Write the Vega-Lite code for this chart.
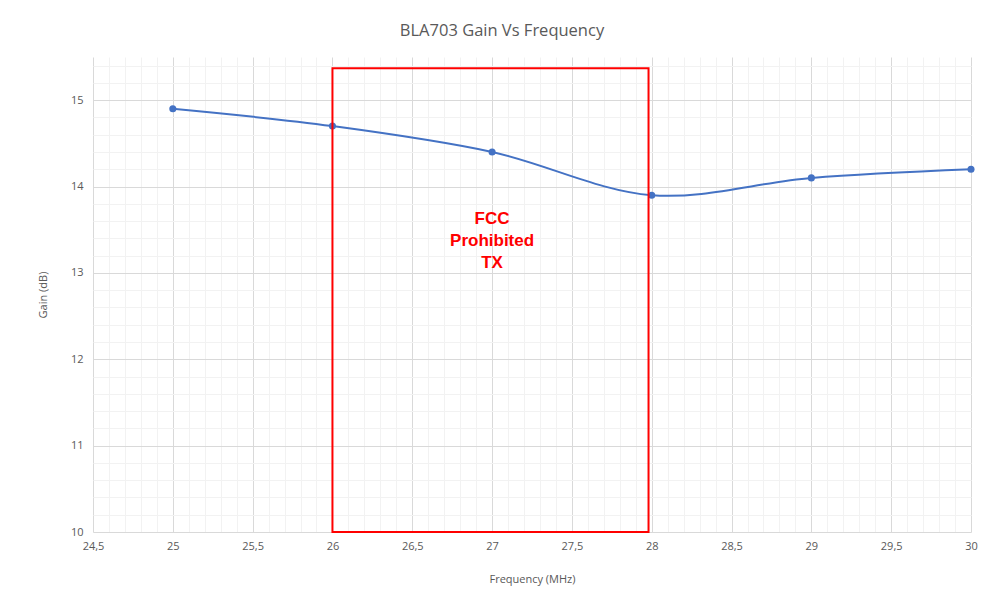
{
  "$schema": "https://vega.github.io/schema/vega-lite/v6.json",
  "autosize": {"type": "none"},
  "width": 878,
  "height": 475,
  "padding": {"left": 93, "top": 57, "right": 22, "bottom": 69},
  "background": "white",
  "title": {
    "text": "BLA703 Gain Vs Frequency",
    "font": "Open Sans",
    "fontSize": 16.5,
    "fontWeight": "normal",
    "color": "#595959",
    "offset": 18,
    "dx": -30,
    "anchor": "middle"
  },
  "config": {
    "view": {"stroke": null},
    "axis": {
      "labelFont": "Open Sans",
      "titleFont": "Open Sans",
      "labelFontSize": 11,
      "titleFontSize": 11,
      "labelColor": "#595959",
      "titleColor": "#595959",
      "titleFontWeight": "normal",
      "ticks": false,
      "domain": false
    }
  },
  "layer": [
    {
      "data": {
        "values": [
          {"freq": 25, "gain": 14.9},
          {"freq": 26, "gain": 14.7},
          {"freq": 27, "gain": 14.4},
          {"freq": 28, "gain": 13.9},
          {"freq": 29, "gain": 14.1},
          {"freq": 30, "gain": 14.2}
        ]
      },
      "mark": {
        "type": "line",
        "interpolate": "catmull-rom",
        "color": "#4472C4",
        "strokeWidth": 2,
        "point": {"filled": true, "size": 50, "color": "#4472C4"}
      },
      "encoding": {
        "x": {
          "field": "freq",
          "type": "quantitative",
          "scale": {"domain": [24.5, 30], "nice": false, "zero": false},
          "axis": {
            "title": "Frequency (MHz)",
            "tickCount": 200,
            "values": [24.5,24.6,24.7,24.8,24.9,25,25.1,25.2,25.3,25.4,25.5,25.6,25.7,25.8,25.9,26,26.1,26.2,26.3,26.4,26.5,26.6,26.7,26.8,26.9,27,27.1,27.2,27.3,27.4,27.5,27.6,27.7,27.8,27.9,28,28.1,28.2,28.3,28.4,28.5,28.6,28.7,28.8,28.9,29,29.1,29.2,29.3,29.4,29.5,29.6,29.7,29.8,29.9,30],
            "labelExpr": "abs(round(datum.value*2) - datum.value*2) < 0.001 ? replace(toString(datum.value), '.', ',') : ''",
            "gridColor": {"condition": {"test": "abs(round(datum.value*2) - datum.value*2) < 0.001", "value": "#d9d9d9"}, "value": "#f2f2f2"},
            "labelPadding": 8,
            "titlePadding": 22,
            "labelFlush": false,
            "labelOverlap": false
          }
        },
        "y": {
          "field": "gain",
          "type": "quantitative",
          "scale": {"domain": [10, 15.5], "nice": false, "zero": false},
          "axis": {
            "title": "Gain (dB)",
            "tickCount": 200,
            "values": [10,10.2,10.4,10.6,10.8,11,11.2,11.4,11.6,11.8,12,12.2,12.4,12.6,12.8,13,13.2,13.4,13.6,13.8,14,14.2,14.4,14.6,14.8,15,15.2,15.4],
            "labelExpr": "abs(round(datum.value) - datum.value) < 0.001 ? toString(datum.value) : ''",
            "gridColor": {"condition": {"test": "abs(round(datum.value) - datum.value) < 0.001", "value": "#d9d9d9"}, "value": "#f2f2f2"},
            "labelPadding": 10,
            "titlePadding": 22,
            "labelFlush": false,
            "labelOverlap": false
          }
        }
      }
    },
    {
      "data": {"values": [{"x1": 26, "x2": 27.98, "y1": 10, "y2": 15.37}]},
      "mark": {"type": "rect", "fill": null, "fillOpacity": 0, "stroke": "#FF0000", "strokeWidth": 2},
      "encoding": {
        "x": {"field": "x1", "type": "quantitative"},
        "x2": {"field": "x2"},
        "y": {"field": "y1", "type": "quantitative"},
        "y2": {"field": "y2"}
      }
    },
    {
      "data": {"values": [{"x": 27, "y": 13.63, "label": "FCC\nProhibited\nTX"}]},
      "mark": {"type": "text", "lineBreak": "\n", "font": "Liberation Sans", "fontSize": 17, "fontWeight": "bold", "color": "#FF0000", "align": "center", "baseline": "middle", "lineHeight": 22},
      "encoding": {
        "x": {"field": "x", "type": "quantitative"},
        "y": {"field": "y", "type": "quantitative"},
        "text": {"field": "label"}
      }
    }
  ]
}
